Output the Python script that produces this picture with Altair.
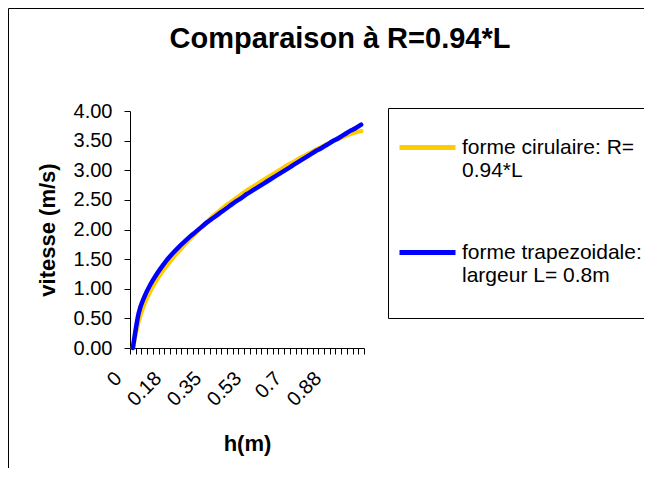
import json
import altair as alt
import pandas as pd

# ---------------- data ----------------
h_values = [0.000, 0.025, 0.050, 0.075, 0.100, 0.125, 0.150, 0.175, 0.200, 0.225,
            0.250, 0.275, 0.300, 0.325, 0.350, 0.375, 0.400, 0.425, 0.450, 0.475,
            0.500, 0.525, 0.550, 0.575, 0.600, 0.625, 0.650, 0.675, 0.700, 0.725,
            0.750, 0.775, 0.800, 0.825, 0.850, 0.875, 0.900, 0.925, 0.950, 0.975,
            1.000]

v_circulaire = [0.00, 0.45, 0.74, 0.95, 1.12, 1.27, 1.40, 1.52, 1.63, 1.74,
                1.84, 1.94, 2.04, 2.13, 2.22, 2.30, 2.38, 2.45, 2.52, 2.59,
                2.66, 2.72, 2.78, 2.84, 2.90, 2.96, 3.02, 3.08, 3.13, 3.19,
                3.24, 3.29, 3.34, 3.39, 3.44, 3.49, 3.53, 3.57, 3.61, 3.64,
                3.66]

v_trapeze = [0.00, 0.58, 0.86, 1.06, 1.22, 1.36, 1.49, 1.60, 1.70, 1.79,
             1.88, 1.96, 2.04, 2.12, 2.19, 2.26, 2.33, 2.40, 2.47, 2.53,
             2.60, 2.66, 2.72, 2.78, 2.84, 2.90, 2.96, 3.02, 3.08, 3.14,
             3.20, 3.26, 3.32, 3.37, 3.43, 3.49, 3.54, 3.60, 3.66, 3.71,
             3.77]

series_names = ["forme cirulaire: R=\n0.94*L", "forme trapezoidale:\nlargeur L= 0.8m"]
series_colors = ["#FFCC00", "#0000FF"]
x_tick_labels = ["0", "0.18", "0.35", "0.53", "0.7", "0.88"]
label_every = 7
y_ticks = [0.0, 0.5, 1.0, 1.5, 2.0, 2.5, 3.0, 3.5, 4.0]

# ---------------- table ----------------
rows = []
for name, vals in zip(series_names, [v_circulaire, v_trapeze]):
    for h, v in zip(h_values, vals):
        rows.append({"h": h, "v": v, "serie": name})
df = pd.DataFrame(rows)

step = h_values[1] - h_values[0]
half = step / 2
x_domain = [h_values[0] - half, h_values[-1] + half]
tick_vals = [round(h - half, 5) for h in h_values] + [round(h_values[-1] + half, 5)]
idx = f"round((datum.value + {half}) / {step})"
label_expr = (f"({idx} % {label_every} == 0 && {idx} <= {label_every * (len(x_tick_labels) - 1)})"
              f" ? {json.dumps(x_tick_labels)}[{idx} / {label_every}] : ''")

# the legend box runs past the right edge in the reference: invisible no-break
# spaces widen the box so its border falls off-picture; a blank extra line gives
# each entry the spacing of the reference
nbsp_pad = "\u00a0" * 40
legend_label_expr = f"split(datum.label + '{nbsp_pad}' + '\\n ', '\\n')"

W, H = 234, 237
FONT = "Liberation Sans"

frame = alt.Chart(alt.Data(values=[{}])).mark_rect(
    fill="white", fillOpacity=0, stroke="black", strokeWidth=1
).encode(
    x=alt.value(-121.5), x2=alt.value(700),
    y=alt.value(-102.5), y2=alt.value(600),
)

lines = alt.Chart(df).mark_line(strokeWidth=4.5, strokeCap="round", interpolate="monotone").encode(
    x=alt.X("h:Q",
            scale=alt.Scale(domain=x_domain, nice=False, zero=False),
            axis=alt.Axis(
                title="h(m)", values=tick_vals, labelExpr=label_expr,
                labelAngle=-45, labelAlign="right", labelBaseline="middle",
                labelOverlap=False, labelFontSize=20, labelPadding=21, labelOffset=-12,
                tickSize=6, tickColor="black", domainColor="black", grid=False,
                titleFontSize=22, titleFontWeight="bold", titleX=W / 2, titleY=95,
                titleBaseline="middle", titleAlign="center",
            )),
    y=alt.Y("v:Q",
            scale=alt.Scale(domain=[0, 4], nice=False),
            axis=alt.Axis(
                title="vitesse (m/s)", values=y_ticks, format=".2f",
                labelFontSize=20, labelPadding=12, tickSize=6, tickColor="black",
                domainColor="black", grid=False,
                titleFontSize=22, titleFontWeight="bold", titleAngle=-90,
                titleX=-83, titleY=H / 2, titleBaseline="middle", titleAlign="center",
            )),
    color=alt.Color("serie:N",
                    scale=alt.Scale(domain=series_names, range=series_colors),
                    legend=alt.Legend(
                        title=None, orient="none", legendX=258, legendY=-3,
                        strokeColor="black", fillColor="white", padding=9,
                        symbolType="stroke", symbolStrokeWidth=5, symbolSize=3136,
                        labelFontSize=21, labelLimit=800, labelOffset=4,
                        labelExpr=legend_label_expr,
                        labelBaseline="middle",
                        rowPadding=18,
                    )),
)

chart = alt.layer(frame, lines).properties(
    width=W, height=H,
    autosize=alt.AutoSizeParams(type="none"),
    padding={"left": 122, "top": 103, "right": 280, "bottom": 120},
    title=alt.TitleParams(
        text="Comparaison à R=0.94*L", fontSize=29, fontWeight="bold", font=FONT,
        anchor="middle", dx=93, dy=60, offset=0, baseline="middle", color="black",
    ),
).configure(font=FONT).configure_axis(
    labelFont=FONT, titleFont=FONT, labelColor="black", titleColor="black"
).configure_legend(labelFont=FONT, labelColor="black").configure_view(stroke=None)

chart.save("out.html", embed_options={"renderer": "svg", "actions": False})
